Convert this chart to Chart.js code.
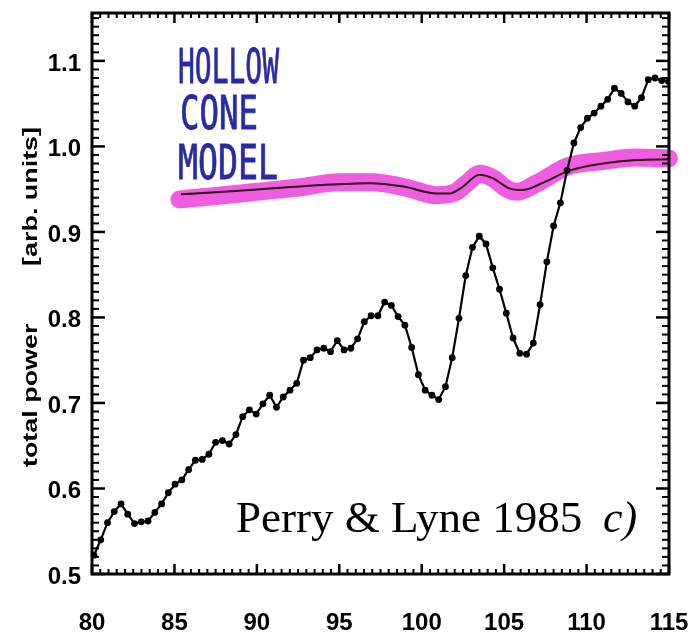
<!DOCTYPE html>
<html><head><meta charset="utf-8">
<script src="https://cdn.jsdelivr.net/npm/chart.js@4"></script>
<style>html,body{margin:0;padding:0;background:#fff;} canvas{display:block;}</style>
</head><body>
<canvas id="c" width="691" height="633"></canvas>
<script>
const xTickValues = [80, 85, 90, 95, 100, 105, 110, 115];
const xTickLabels = ['80', '85', '90', '95', '100', '105', '110', '115'];
const yTickValues = [0.5, 0.6, 0.7, 0.8, 0.9, 1.0, 1.1];
const yTickLabels = ['0.5', '0.6', '0.7', '0.8', '0.9', '1.0', '1.1'];

const obsX = [80.12,80.53,80.94,81.35,81.76,82.17,82.58,82.99,83.40,83.81,84.22,84.63,85.04,85.45,85.86,86.27,86.68,87.09,87.50,87.91,88.32,88.73,89.14,89.55,89.96,90.37,90.78,91.19,91.60,92.01,92.42,92.83,93.24,93.65,94.06,94.47,94.88,95.29,95.70,96.11,96.52,96.93,97.34,97.75,98.16,98.57,98.98,99.39,99.80,100.21,100.62,101.03,101.44,101.85,102.26,102.67,103.08,103.49,103.90,104.31,104.72,105.13,105.54,105.95,106.36,106.77,107.18,107.59,108.00,108.41,108.82,109.23,109.64,110.05,110.46,110.87,111.28,111.69,112.10,112.51,112.92,113.33,113.74,114.15,114.56,114.97];
const obsY = [0.522,0.540,0.560,0.573,0.582,0.570,0.559,0.561,0.562,0.572,
0.582,0.595,0.605,0.610,0.622,0.633,0.634,0.640,0.654,0.656,
0.652,0.663,0.684,0.692,0.687,0.699,0.709,0.695,0.707,0.715,
0.723,0.750,0.753,0.762,0.764,0.760,0.773,0.762,0.764,0.775,
0.795,0.802,0.802,0.818,0.814,0.801,0.791,0.765,0.733,0.715,
0.709,0.704,0.719,0.753,0.799,0.849,0.882,0.895,0.886,0.858,
0.833,0.805,0.776,0.758,0.757,0.770,0.815,0.865,0.907,0.934,
0.972,1.004,1.022,1.033,1.039,1.047,1.055,1.068,1.062,1.052,
1.047,1.057,1.078,1.080,1.077,1.076];

const modelX = [85.4, 88, 91, 94, 96.9, 98.9, 100.9, 101.7, 102.5, 103.5, 104.3, 105.3, 106.1, 107.3, 109, 111, 113, 115];
const modelY = [0.944, 0.947, 0.951, 0.955, 0.957, 0.953, 0.945, 0.945, 0.953, 0.967, 0.963, 0.951, 0.949, 0.957, 0.972, 0.980, 0.984, 0.985];

const bandX = [85.3, 87.5, 90, 92.5, 95, 97, 99, 100.9, 102, 102.8, 103.5, 104.3, 105.2, 105.8, 107, 108.9, 111, 113, 115];
const bandY = [0.938, 0.942, 0.947, 0.952, 0.958, 0.958, 0.952, 0.943, 0.946, 0.958, 0.968, 0.963, 0.950, 0.947, 0.957, 0.977, 0.983, 0.987, 0.986];

const noteLines = ['HOLLOW', 'CONE', 'MODEL'];
const citation = 'Perry & Lyne 1985';
const panelTag = 'c)';
const yTitleParts = ['total power', '[arb. units]'];

const toPts = (xs, ys) => xs.map((x, i) => ({x: x, y: ys[i]}));
const labelFor = (vals, labs) => (v) => {
  for (let i = 0; i < vals.length; i++) if (Math.abs(vals[i] - v) < 1e-6) return labs[i];
  return '';
};

const framePlugin = {
  id: 'frame',
  afterDraw(chart) {
    const ctx = chart.ctx, a = chart.chartArea, xs = chart.scales.x, ys = chart.scales.y;
    ctx.save();
    ctx.strokeStyle = '#000';
    ctx.lineWidth = 3;
    ctx.strokeRect(a.left, a.top, a.right - a.left, a.bottom - a.top);
    const seg = (x1, y1, x2, y2) => { ctx.beginPath(); ctx.moveTo(x1, y1); ctx.lineTo(x2, y2); ctx.stroke(); };
    for (let k = 160; k <= 230; k++) {
      const px = xs.getPixelForValue(k / 2);
      const major = k % 10 === 0;
      ctx.lineWidth = major ? 2.5 : 2;
      const L = major ? 10 : 5;
      seg(px, a.bottom, px, a.bottom - L);
      seg(px, a.top, px, a.top + L);
    }
    for (let k = 50; k <= 115; k++) {
      const py = ys.getPixelForValue(k / 100);
      const major = k % 10 === 0;
      ctx.lineWidth = major ? 2.5 : 2;
      const L = major ? 13 : 7;
      seg(a.left, py, a.left + L, py);
      seg(a.right, py, a.right - L, py);
    }
    // handwritten note
    ctx.fillStyle = '#2a2aa8';
    ctx.strokeStyle = '#2a2aa8';
    const note = [[noteLines[0], 178, 83, 101, 35], [noteLines[1], 180, 129, 78, 34], [noteLines[2], 178, 179, 100, 35]];
    ctx.font = '28px "DejaVu Sans Mono", monospace';
    ctx.textBaseline = 'alphabetic';
    ctx.textAlign = 'left';
    note.forEach(([t, x, b, w, h]) => {
      const m = ctx.measureText(t).width;
      ctx.save();
      ctx.translate(x, b);
      ctx.scale(w / m, h / (28 * 0.73));
      ctx.lineWidth = 0.5;
      ctx.fillText(t, 0, 0);
      ctx.strokeText(t, 0, 0);
      ctx.restore();
    });
    // citation
    ctx.fillStyle = '#000';
    ctx.font = '45px "Liberation Serif", "Times New Roman", serif';
    ctx.fillText(citation, 236, 532);
    ctx.font = 'italic 44px "Liberation Serif", "Times New Roman", serif';
    ctx.fillText(panelTag, 603, 532);
    // y title
    ctx.font = 'bold 21px "Liberation Sans", Arial, sans-serif';
    ctx.save();
    ctx.translate(37, 467);
    ctx.rotate(-Math.PI / 2);
    ctx.scale(1.28, 1);
    ctx.textAlign = 'left';
    ctx.fillText(yTitleParts[0], 0, 0);
    ctx.restore();
    ctx.save();
    ctx.translate(37, 127);
    ctx.rotate(-Math.PI / 2);
    ctx.scale(1.28, 1);
    ctx.textAlign = 'right';
    ctx.fillText(yTitleParts[1], 0, 0);
    ctx.restore();
    ctx.restore();
  }
};

const tickFont = {family: '"Liberation Sans", Arial, sans-serif', size: 24, weight: 'bold'};

new Chart(document.getElementById('c'), {
  type: 'line',
  data: {
    datasets: [
      {
        label: 'observed', data: toPts(obsX, obsY), order: 0,
        borderColor: '#000', borderWidth: 2.2, backgroundColor: '#000',
        pointRadius: 3.4, pointBorderWidth: 0, pointBackgroundColor: '#000',
        tension: 0, fill: false
      },
      {
        label: 'model', data: toPts(modelX, modelY), order: 1,
        borderColor: '#2a0a14', borderWidth: 2, pointRadius: 0,
        tension: 0.4, cubicInterpolationMode: 'monotone', fill: false
      },
      {
        label: 'band', data: toPts(bandX, bandY), order: 2,
        borderColor: 'rgba(238,80,222,0.92)', borderWidth: 18, pointRadius: 0,
        borderCapStyle: 'round', borderJoinStyle: 'round',
        tension: 0.4, cubicInterpolationMode: 'monotone', fill: false, clip: 10
      }
    ]
  },
  options: {
    responsive: false,
    animation: false,
    devicePixelRatio: 1,
    layout: {padding: {top: 13, right: 22, left: 0, bottom: 0}},
    plugins: {legend: {display: false}, tooltip: {enabled: false}},
    scales: {
      x: {
        type: 'linear', min: 80, max: 115,
        afterBuildTicks: (s) => { s.ticks = xTickValues.map(v => ({value: v})); },
        afterFit: (s) => { s.height = 59; s.paddingLeft = 0; s.paddingRight = 0; },
        grid: {display: false, drawTicks: false},
        border: {display: false},
        ticks: {padding: 35, color: '#000', font: tickFont, maxRotation: 0, autoSkip: false,
          callback: labelFor(xTickValues, xTickLabels)}
      },
      y: {
        type: 'linear', min: 0.5, max: 1.156,
        afterBuildTicks: (s) => { s.ticks = yTickValues.map(v => ({value: v})); },
        afterFit: (s) => { s.width = 92; s.paddingTop = 0; s.paddingBottom = 0; },
        grid: {display: false, drawTicks: false},
        border: {display: false},
        ticks: {padding: 11, labelOffset: 3, color: '#000', font: tickFont, autoSkip: false,
          callback: labelFor(yTickValues, yTickLabels)}
      }
    }
  },
  plugins: [framePlugin]
});
</script>
</body></html>
